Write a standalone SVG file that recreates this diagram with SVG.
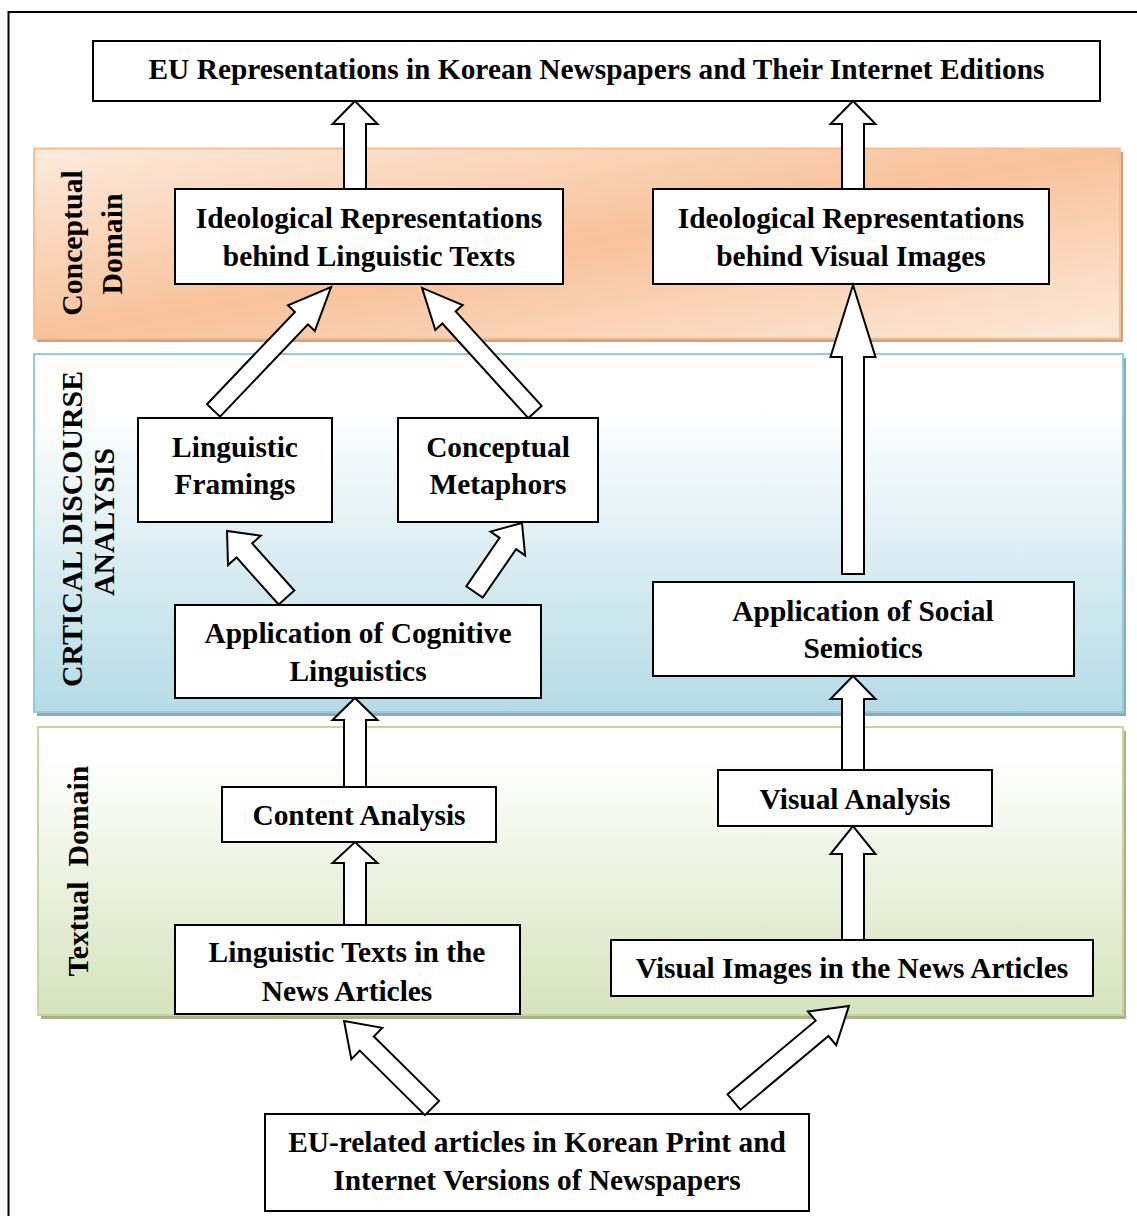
<svg xmlns="http://www.w3.org/2000/svg" width="1137" height="1216" viewBox="0 0 1137 1216">
  <style>
    .frame { fill: none; stroke: #000; stroke-width: 2; }
    .box { fill: #fff; stroke: #000; stroke-width: 2; }
    .arrow { fill: #fff; stroke: #000; stroke-width: 2; stroke-linejoin: miter; }
    .lbl { font-family: "Liberation Serif", "Times New Roman", serif; font-weight: bold; font-size: 29.4px; fill: #000; text-anchor: middle; }
    .side { font-family: "Liberation Serif", "Times New Roman", serif; font-weight: bold; font-size: 29.8px; fill: #000; text-anchor: middle; white-space: pre; }
  </style>
  <defs>
    <linearGradient id="gConceptual" x1="0" y1="0" x2="1" y2="1">
      <stop offset="0" stop-color="#fdebdd"/>
      <stop offset="0.5" stop-color="#f8c29b"/>
      <stop offset="1" stop-color="#fdeadb"/>
    </linearGradient>
    <linearGradient id="gCda" x1="0" y1="0" x2="0" y2="1">
      <stop offset="0" stop-color="#ffffff"/>
      <stop offset="0.15" stop-color="#ffffff"/>
      <stop offset="1" stop-color="#b5dbe6"/>
    </linearGradient>
    <linearGradient id="gTextual" x1="0" y1="0" x2="0" y2="1">
      <stop offset="0" stop-color="#ffffff"/>
      <stop offset="0.1" stop-color="#ffffff"/>
      <stop offset="1" stop-color="#d6e3bc"/>
    </linearGradient>
  </defs>

  <rect width="1137" height="1216" fill="#fff"/>
  <!-- outer frame -->
  <rect class="frame" x="8.5" y="12" width="1150" height="1230"/>

  <!-- domain bands -->
  <g id="band-conceptual">
    <rect x="37" y="152" width="1086" height="190" fill="#c9a382"/>
    <rect x="34" y="148.5" width="1086" height="190" fill="url(#gConceptual)" stroke="#f9bd8e" stroke-width="2"/>
    <text class="side" transform="translate(82,243) rotate(-90)">Conceptual</text>
    <text class="side" transform="translate(122,244) rotate(-90)">Domain</text>
  </g>
  <g id="band-cda">
    <rect x="37" y="358" width="1089" height="358" fill="#8eabb7"/>
    <rect x="34" y="354" width="1089" height="358" fill="url(#gCda)" stroke="#93cddd" stroke-width="2"/>
    <text class="side" transform="translate(82,529) rotate(-90)">CRTICAL DISCOURSE</text>
    <text class="side" transform="translate(114,522) rotate(-90)">ANALYSIS</text>
  </g>
  <g id="band-textual">
    <rect x="41" y="731" width="1085" height="288" fill="#a6b38c"/>
    <rect x="38" y="727" width="1085" height="288" fill="url(#gTextual)" stroke="#c3d69b" stroke-width="2"/>
    <text class="side" transform="translate(88,871) rotate(-90)">Textual  Domain</text>
  </g>

  <!-- nodes -->
  <g id="node-eu-representations">
    <rect class="box" x="93" y="41" width="1007" height="60"/>
    <text class="lbl" x="596.5" y="79">EU Representations in Korean Newspapers and Their Internet Editions</text>
  </g>
  <g id="node-ideo-linguistic">
    <rect class="box" x="175" y="189" width="388" height="95"/>
    <text class="lbl" x="369" y="228">Ideological Representations</text>
    <text class="lbl" x="369" y="266">behind Linguistic Texts</text>
  </g>
  <g id="node-ideo-visual">
    <rect class="box" x="653" y="189" width="396" height="95"/>
    <text class="lbl" x="851" y="228">Ideological Representations</text>
    <text class="lbl" x="851" y="266">behind Visual Images</text>
  </g>
  <g id="node-linguistic-framings">
    <rect class="box" x="138" y="418" width="194" height="104"/>
    <text class="lbl" x="235" y="457">Linguistic</text>
    <text class="lbl" x="235" y="494">Framings</text>
  </g>
  <g id="node-conceptual-metaphors">
    <rect class="box" x="398" y="418" width="200" height="104"/>
    <text class="lbl" x="498" y="457">Conceptual</text>
    <text class="lbl" x="498" y="494">Metaphors</text>
  </g>
  <g id="node-cognitive-linguistics">
    <rect class="box" x="175" y="605" width="366" height="93"/>
    <text class="lbl" x="358" y="643">Application of Cognitive</text>
    <text class="lbl" x="358" y="681">Linguistics</text>
  </g>
  <g id="node-social-semiotics">
    <rect class="box" x="653" y="582" width="421" height="94"/>
    <text class="lbl" x="863" y="621">Application of Social</text>
    <text class="lbl" x="863" y="658">Semiotics</text>
  </g>
  <g id="node-content-analysis">
    <rect class="box" x="222" y="787" width="274" height="55"/>
    <text class="lbl" x="359" y="825">Content Analysis</text>
  </g>
  <g id="node-visual-analysis">
    <rect class="box" x="718" y="770" width="274" height="56"/>
    <text class="lbl" x="855" y="809">Visual Analysis</text>
  </g>
  <g id="node-linguistic-texts">
    <rect class="box" x="175" y="925" width="345" height="89"/>
    <text class="lbl" x="347" y="962">Linguistic Texts in the</text>
    <text class="lbl" x="347" y="1001">News Articles</text>
  </g>
  <g id="node-visual-images">
    <rect class="box" x="611" y="940" width="482" height="56"/>
    <text class="lbl" x="852" y="978">Visual Images in the News Articles</text>
  </g>
  <g id="node-eu-articles">
    <rect class="box" x="265" y="1114" width="544" height="97"/>
    <text class="lbl" x="537" y="1152">EU-related articles in Korean Print and</text>
    <text class="lbl" x="537" y="1190">Internet Versions of Newspapers</text>
  </g>

  <!-- block arrows -->
  <g id="connectors">
    <polygon class="arrow" points="344,189 344,124 332.5,124 355,101 377.5,124 366,124 366,189"/>
    <polygon class="arrow" points="842,189 842,124 830.5,124 853,101 875.5,124 864,124 864,189"/>
    <polygon class="arrow" transform="translate(213.5,410.5) rotate(43.6)" points="-9,0 -9,-127.5 -18.5,-127.5 0,-170.5 18.5,-127.5 9,-127.5 9,0"/>
    <polygon class="arrow" transform="translate(535,412) rotate(-42.3)" points="-9,0 -9,-127.8 -18.5,-127.8 0,-167.8 18.5,-127.8 9,-127.8 9,0"/>
    <polygon class="arrow" transform="translate(286.5,597.5) rotate(-41.8)" points="-10.5,0 -10.5,-63.2 -22,-63.2 0,-89.2 22,-63.2 10.5,-63.2 10.5,0"/>
    <polygon class="arrow" transform="translate(474.5,592) rotate(34.5)" points="-10,0 -10,-58.8 -21,-58.8 0,-83.8 21,-58.8 10,-58.8 10,0"/>
    <polygon class="arrow" points="842,574 842,357 830.5,357 853,285 875.5,357 864,357 864,574"/>
    <polygon class="arrow" points="344,787 344,720 332.5,720 355,698 377.5,720 366,720 366,787"/>
    <polygon class="arrow" points="344,925 344,863 332.5,863 355,842 377.5,863 366,863 366,925"/>
    <polygon class="arrow" points="842,770 842,699 830.5,699 853,676 875.5,699 864,699 864,770"/>
    <polygon class="arrow" points="842,940 842,854 830.5,854 853,826 875.5,854 864,854 864,940"/>
    <polygon class="arrow" transform="translate(432,1108) rotate(-45.3)" points="-10,0 -10,-91.7 -22,-91.7 0,-123.7 22,-91.7 10,-91.7 10,0"/>
    <polygon class="arrow" transform="translate(734,1102) rotate(50.1)" points="-10,0 -10,-114.8 -22,-114.8 0,-149.8 22,-114.8 10,-114.8 10,0"/>
  </g>
</svg>
